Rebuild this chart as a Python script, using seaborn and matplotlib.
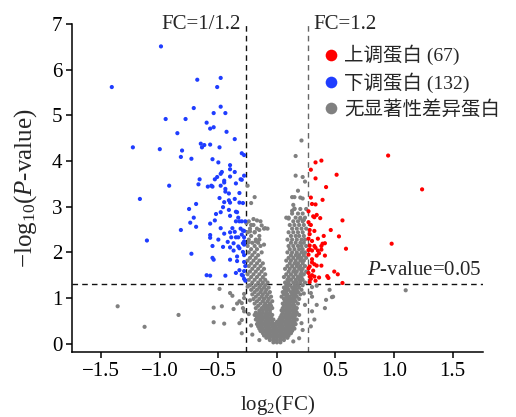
import matplotlib
matplotlib.use("Agg")
import matplotlib.pyplot as plt
import seaborn as sns
import pandas as pd
import numpy as np

# ---------------- data ----------------
up_points = [
    (0.95, 4.12), (0.33, 3.97), (0.38, 4.01), (0.29, 3.81), (0.51, 3.70), (0.33, 3.62),
    (0.42, 3.43), (0.39, 3.15), (0.30, 3.06), (0.34, 2.82), (0.32, 2.77), (0.37, 2.75),
    (0.56, 2.70), (0.27, 2.66), (0.29, 2.60), (0.46, 2.49), (0.28, 2.49), (0.32, 2.47),
    (0.40, 2.36), (0.53, 2.35), (0.27, 2.30), (0.98, 2.19), (0.59, 2.08), (0.28, 2.15),
    (0.32, 2.14), (0.33, 2.10), (0.38, 2.14), (0.39, 2.19), (0.41, 2.20), (0.28, 2.07),
    (0.30, 2.04), (0.35, 2.04), (0.36, 1.98), (0.38, 2.06), (0.34, 1.93), (0.41, 1.93),
    (0.28, 1.69), (0.27, 1.65), (0.32, 1.74), (0.34, 1.71), (0.38, 1.71), (0.49, 1.58),
    (0.52, 1.52), (0.30, 1.50), (0.32, 1.47), (0.28, 1.47), (0.29, 1.42), (0.43, 1.48),
    (0.44, 1.44), (0.56, 1.33), (1.24, 3.38), (0.33, 3.05), (0.31, 2.79), (0.27, 2.90),
    (0.28, 2.40), (0.30, 2.25), (0.27, 1.95), (0.30, 1.85), (0.27, 1.55), (0.31, 1.60),
    (0.28, 1.35), (0.33, 1.38), (0.36, 1.45), (0.30, 1.78), (0.27, 2.05), (0.35, 2.30),
    (0.29, 3.20),
]

down_points = [
    (-0.99, 6.51), (-0.68, 5.78), (-0.48, 5.82), (-0.51, 5.62), (-0.71, 5.16), (-0.48, 5.19),
    (-0.54, 5.05), (-0.44, 5.05), (-0.95, 4.92), (-0.78, 4.92), (-0.60, 4.84), (-0.57, 4.71),
    (-0.54, 4.74), (-0.43, 4.64), (-0.85, 4.61), (-0.36, 4.48), (-0.65, 4.38), (-0.62, 4.35),
    (-0.57, 4.36), (-0.64, 4.30), (-0.49, 4.30), (-1.00, 4.26), (-0.81, 4.23), (-0.30, 4.17),
    (-0.28, 4.13), (-0.82, 4.09), (-0.73, 4.05), (-0.55, 4.04), (-1.41, 5.62), (-1.23, 4.30),
    (-0.50, 3.97), (-0.40, 3.91), (-0.40, 3.82), (-0.47, 3.76), (-0.36, 3.76), (-0.48, 3.72),
    (-0.40, 3.66), (-0.51, 3.65), (-0.66, 3.60), (-0.53, 3.60), (-0.45, 3.57), (-0.45, 3.53),
    (-0.31, 3.60), (-0.67, 3.49), (-0.92, 3.46), (-0.59, 3.44), (-0.56, 3.46), (-0.55, 3.44),
    (-0.48, 3.46), (-0.35, 3.51), (-0.28, 3.68), (-0.44, 3.39), (-0.44, 3.33), (-0.41, 3.29),
    (-0.32, 3.30), (-1.17, 3.17), (-0.49, 3.19), (-0.41, 3.14), (-0.40, 3.09), (-0.36, 3.17),
    (-0.32, 3.09), (-0.45, 3.10), (-0.69, 3.06), (-0.29, 3.08), (-0.75, 2.95), (-0.46, 2.99),
    (-0.41, 2.93), (-0.35, 2.89), (-0.34, 2.88), (-0.52, 2.84), (-0.48, 2.88), (-0.40, 2.80),
    (-0.71, 2.76), (-0.53, 2.70), (-0.33, 2.76), (-0.35, 2.68), (-0.32, 2.68), (-0.30, 2.68),
    (-0.27, 2.68), (-0.74, 2.65), (-0.57, 2.63), (-0.69, 2.56), (-0.48, 2.53), (-0.82, 2.49),
    (-0.38, 2.53), (-0.31, 2.52), (-0.40, 2.44), (-0.36, 2.45), (-0.29, 2.48), (-0.28, 2.47),
    (-0.57, 2.38), (-0.57, 2.32), (-0.45, 2.41), (-0.39, 2.33), (-0.35, 2.33), (-0.33, 2.33),
    (-0.30, 2.39), (-0.28, 2.33), (-1.11, 2.26), (-0.50, 2.28), (-0.42, 2.23), (-0.37, 2.20),
    (-0.28, 2.24), (-0.28, 2.17), (-0.46, 2.12), (-0.55, 2.14), (-0.33, 2.13), (-0.32, 2.09),
    (-0.40, 2.11), (-0.73, 1.97), (-0.37, 2.04), (-0.29, 2.01), (-0.28, 1.94), (-0.34, 1.91),
    (-0.55, 1.88), (-0.54, 1.84), (-0.40, 1.84), (-0.34, 1.81), (-0.28, 1.79), (-0.32, 1.61),
    (-0.28, 1.59), (-0.60, 1.50), (-0.57, 1.49), (-0.44, 1.49), (-0.35, 1.55), (-0.30, 1.51),
    (-0.29, 1.49), (-0.28, 1.42), (-0.27, 1.38), (-0.30, 3.59), (-0.29, 2.20), (-0.27, 1.70),
]

# non-significant proteins: dense core, row by row (y, x values)
ns_rows = [
    (0.03, [-0.03, 0.00, 0.03]),
    (0.08, [-0.06, -0.03, 0.00, 0.03, 0.06]),
    (0.13, [-0.09, -0.06, -0.03, 0.00, 0.03, 0.06, 0.09]),
    (0.18, [-0.11, -0.08, -0.05, -0.02, 0.01, 0.04, 0.07, 0.10]),
    (0.23, [-0.12, -0.09, -0.06, -0.03, 0.00, 0.03, 0.06, 0.09, 0.12]),
    (0.28, [-0.14, -0.11, -0.08, -0.05, -0.02, 0.01, 0.04, 0.07, 0.10, 0.13]),
    (0.33, [-0.15, -0.12, -0.09, -0.06, -0.03, 0.00, 0.03, 0.06, 0.09, 0.12, 0.15]),
    (0.38, [-0.16, -0.13, -0.10, -0.07, -0.04, -0.01, 0.02, 0.05, 0.08, 0.11, 0.14]),
    (0.43, [-0.17, -0.14, -0.11, -0.08, -0.05, -0.02, 0.01, 0.04, 0.07, 0.10, 0.13, 0.16]),
    (0.48, [-0.16, -0.13, -0.10, -0.07, -0.04, 0.00, 0.03, 0.06, 0.09, 0.12, 0.15]),
    (0.53, [-0.18, -0.15, -0.12, -0.09, -0.06, -0.03, 0.02, 0.05, 0.08, 0.11, 0.14, 0.17]),
    (0.58, [-0.17, -0.14, -0.11, -0.08, -0.05, 0.03, 0.06, 0.09, 0.12, 0.15]),
    (0.63, [-0.19, -0.16, -0.13, -0.10, -0.07, -0.04, 0.04, 0.07, 0.10, 0.13, 0.16, 0.19]),
    (0.68, [-0.18, -0.15, -0.12, -0.09, -0.06, 0.05, 0.08, 0.11, 0.14, 0.17]),
    (0.73, [-0.15, -0.12, -0.09, -0.06, 0.04, 0.07, 0.10, 0.13, 0.16]),
    (0.78, [-0.18, -0.13, -0.10, -0.07, -0.04, 0.05, 0.08, 0.11, 0.14, 0.17]),
    (0.83, [-0.16, -0.11, -0.08, -0.05, 0.06, 0.09, 0.12, 0.15]),
    (0.88, [-0.19, -0.14, -0.10, -0.06, 0.05, 0.08, 0.11, 0.14, 0.18]),
    (0.93, [-0.17, -0.12, -0.08, -0.04, 0.07, 0.10, 0.13, 0.16]),
    (0.98, [-0.20, -0.15, -0.11, -0.07, 0.06, 0.09, 0.12, 0.15, 0.19]),
    (1.03, [-0.18, -0.13, -0.09, -0.05, 0.04, 0.08, 0.11, 0.14, 0.17]),
    (1.08, [-0.21, -0.16, -0.12, -0.08, 0.06, 0.09, 0.13, 0.16, 0.20]),
    (1.13, [-0.19, -0.14, -0.10, -0.06, 0.05, 0.08, 0.12, 0.15, 0.18]),
    (1.18, [-0.22, -0.17, -0.13, -0.09, 0.07, 0.10, 0.14, 0.17, 0.21]),
    (1.23, [-0.20, -0.15, -0.11, -0.07, 0.06, 0.09, 0.13, 0.16, 0.19]),
    (1.28, [-0.23, -0.18, -0.14, -0.10, 0.08, 0.11, 0.15, 0.18, 0.22]),
    (1.34, [-0.21, -0.16, -0.12, -0.08, 0.07, 0.10, 0.14, 0.17, 0.20, 0.24]),
    (1.40, [-0.24, -0.19, -0.14, -0.10, 0.09, 0.12, 0.16, 0.19, 0.22]),
    (1.46, [-0.22, -0.17, -0.12, 0.06, 0.10, 0.14, 0.18, 0.21]),
    (1.52, [-0.25, -0.20, -0.15, -0.10, 0.08, 0.12, 0.16, 0.20, 0.23]),
    (1.58, [-0.23, -0.18, -0.13, 0.10, 0.14, 0.17, 0.21, 0.25]),
    (1.64, [-0.21, -0.16, -0.11, 0.07, 0.11, 0.15, 0.19, 0.22]),
    (1.70, [-0.24, -0.19, -0.14, 0.09, 0.13, 0.17, 0.20, 0.24]),
    (1.76, [-0.22, -0.17, -0.12, 0.11, 0.15, 0.18, 0.22]),
    (1.82, [-0.25, -0.20, -0.15, 0.08, 0.12, 0.16, 0.20, 0.23]),
    (1.88, [-0.23, -0.18, 0.10, 0.14, 0.18, 0.21, 0.25]),
    (1.94, [-0.21, -0.16, 0.12, 0.16, 0.19, 0.23]),
    (2.00, [-0.24, -0.19, -0.13, 0.09, 0.13, 0.17, 0.21, 0.24]),
    (2.07, [-0.22, -0.17, 0.11, 0.15, 0.19, 0.22]),
    (2.14, [-0.25, -0.19, -0.14, 0.10, 0.14, 0.18, 0.21, 0.25]),
    (2.21, [-0.21, -0.16, 0.12, 0.16, 0.20, 0.23]),
    (2.28, [-0.24, -0.18, 0.09, 0.13, 0.17, 0.21, 0.24]),
    (2.36, [-0.22, -0.15, 0.12, 0.16, 0.19, 0.23]),
    (2.44, [-0.25, -0.19, 0.10, 0.14, 0.18, 0.22]),
    (2.52, [-0.23, -0.17, -0.11, 0.13, 0.17, 0.21, 0.25]),
    (2.60, [-0.20, 0.11, 0.15, 0.19, 0.23]),
    (2.68, [-0.24, -0.14, 0.14, 0.18, 0.22]),
    (2.76, [0.10, 0.16, 0.20, 0.24]),
    (2.85, [0.13, 0.18, 0.22]),
    (2.95, [0.15, 0.20, 0.25]),
]

# non-significant proteins: scattered points
ns_extra = [
    (0.21, 4.45), (0.16, 4.11), (0.16, 3.68), (0.22, 3.65), (0.24, 3.55), (0.18, 3.35),
    (0.13, 3.21), (0.15, 3.21), (0.20, 3.20), (0.22, 3.18), (0.14, 3.04), (0.15, 2.96),
    (0.13, 2.91), (0.08, 2.76), (0.10, 2.74), (0.20, 2.74), (0.23, 2.71),
    (-0.25, 3.46), (-0.19, 3.21), (-0.22, 3.08), (-0.20, 2.73), (-0.17, 2.70), (-0.26, 2.64),
    (-0.22, 2.60), (-0.13, 2.59), (-0.10, 2.53), (-0.08, 2.52), (-0.23, 2.46), (-0.19, 2.44),
    (-0.15, 2.49), (-0.18, 2.24), (-0.24, 2.22), (-0.15, 2.28), (-0.11, 2.17),
    (-0.49, 1.20), (-0.40, 1.11), (-0.38, 1.05), (-0.54, 0.79), (-0.47, 0.82), (-0.34, 0.88),
    (-0.32, 0.93), (-0.29, 0.78), (-0.28, 0.71), (-0.84, 0.63), (-0.54, 0.47), (-0.45, 0.44),
    (-0.32, 0.45), (-0.30, 0.52), (-1.13, 0.37), (-1.36, 0.82), (-0.30, 0.23), (-0.28, 1.00),
    (-0.28, 1.09), (-0.37, 0.76), (-0.30, 0.89),
    (0.48, 1.03), (1.10, 1.17), (0.30, 1.24), (0.34, 1.27), (0.45, 1.18), (0.47, 1.02),
    (0.42, 0.96), (0.41, 0.78), (0.30, 1.03), (0.29, 1.11), (0.34, 0.85), (0.30, 0.71),
    (0.32, 0.53), (0.29, 0.38),
    (-0.22, 0.40), (-0.24, 0.65), (0.21, 0.45), (0.24, 0.85), (0.22, 0.30), (-0.21, 0.20),
    (0.19, 0.12), (-0.15, 0.08), (0.14, 0.05), (-0.23, 0.95), (0.23, 1.10), (-0.25, 1.25),
]

group_labels = ["无显著性差异蛋白", "下调蛋白 (132)", "上调蛋白 (67)"]
group_colors = ["#808080", "#1f3dff", "#ff0000"]
legend_order = ["上调蛋白 (67)", "下调蛋白 (132)", "无显著性差异蛋白"]

xticks = [-1.5, -1.0, -0.5, 0, 0.5, 1.0, 1.5]
xtick_labels = ["\u22121.5", "\u22121.0", "\u22120.5", "0", "0.5", "1.0", "1.5"]
yticks = [0, 1, 2, 3, 4, 5, 6, 7]

fc_cut = np.log2(1.2)
p_cut = -np.log10(0.05)

# ---------------- build table ----------------
ns_points = [(x, y) for y, xs in ns_rows for x in xs] + ns_extra
rows = []
for lab, pts in zip(group_labels, [ns_points, down_points, up_points]):
    for x, y in pts:
        rows.append({"x": x, "y": y, "group": lab})
df = pd.DataFrame(rows)

# ---------------- style ----------------
sns.set_theme(style="ticks")
plt.rcParams["font.family"] = ["Liberation Serif", "Noto Sans CJK SC"]
plt.rcParams["mathtext.fontset"] = "custom"
plt.rcParams["mathtext.rm"] = "Liberation Serif"
plt.rcParams["mathtext.it"] = "Liberation Serif:italic"
plt.rcParams["axes.unicode_minus"] = True

fig, ax = plt.subplots(figsize=(5.16, 4.17), dpi=100)
fig.subplots_adjust(left=0.1395, right=0.936, bottom=0.156, top=0.9424)

palette = dict(zip(group_labels, group_colors))
sns.scatterplot(data=df, x="x", y="y", hue="group", hue_order=group_labels,
                palette=palette, s=9, linewidth=0, ax=ax, legend=True, zorder=3)

ax.set_xlim(-1.75, 1.76)
ax.set_ylim(-0.18, 7.0)

ax.axvline(-fc_cut, color="#111111", lw=1.0, ls=(0, (4, 3)), zorder=2)
ax.axvline(fc_cut, color="#666666", lw=1.0, ls=(0, (4, 3)), zorder=2)
ax.axhline(p_cut, color="#111111", lw=1.0, ls=(0, (4, 3)), zorder=2)

ax.set_xticks(xticks)
ax.set_xticklabels(xtick_labels)
ax.set_yticks(yticks)
ax.set_yticklabels([str(v) for v in yticks])
ax.tick_params(direction="out", length=4, width=1.1, labelsize=15, colors="black", pad=3)
for side in ["left", "bottom"]:
    ax.spines[side].set_linewidth(1.1)
    ax.spines[side].set_color("black")
sns.despine(ax=ax)

ax.set_xlabel("log$_2$(FC)", fontsize=15, labelpad=9)
ax.set_ylabel("\u2212log$_{10}$($P$-value)", fontsize=18, labelpad=9)

ax.text(-0.31, 6.98, "FC=1/1.2", ha="right", va="center", fontsize=15, clip_on=False)
ax.text(0.31, 6.98, "FC=1.2", ha="left", va="center", fontsize=15, clip_on=False)
ax.text(1.75, 1.40, "$P$-value=0.05", ha="right", va="bottom", fontsize=15)

handles, labels = ax.get_legend_handles_labels()
hmap = dict(zip(labels, handles))
leg = ax.legend([hmap[l] for l in legend_order], legend_order, loc="upper left",
                bbox_to_anchor=(0.606, 0.936), frameon=False, fontsize=14,
                markerscale=2.8, handlelength=1.0, handletextpad=0.2,
                labelspacing=0.36, borderpad=0, borderaxespad=0)

fig.savefig("out.png", dpi=100)
